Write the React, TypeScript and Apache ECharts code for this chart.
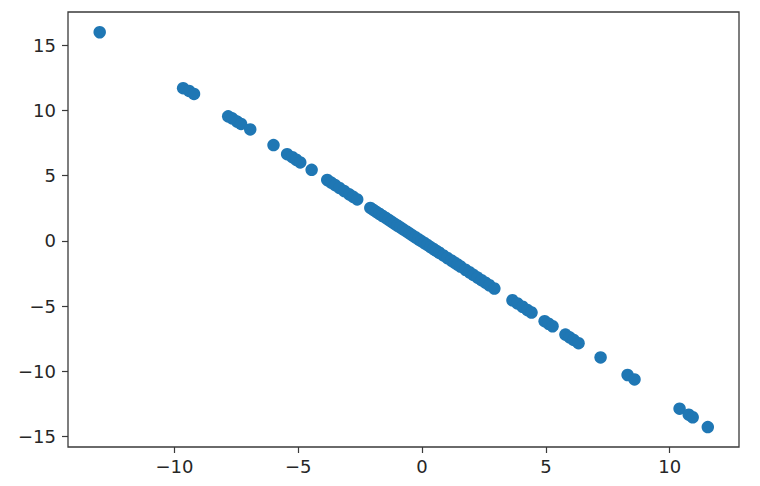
import React, { useEffect, useRef } from "react";
import * as echarts from "echarts";

const xValues: number[] = [
  -13.02, -9.65, -9.41, -9.21, -7.83, -7.67, -7.47, -7.31, -6.94, -6.0,
  -5.45, -5.24, -5.08, -4.92, -4.46, -3.83, -3.67, -3.51, -3.34, -3.14,
  -2.94, -2.78, -2.62, -2.09, -1.97, -1.85, -1.73, -1.61, -1.48, -1.36,
  -1.24, -1.12, -1.0, -0.88, -0.76, -0.63, -0.51, -0.39, -0.27, -0.15,
  -0.03, 0.09, 0.21, 0.34, 0.46, 0.58, 0.7, 0.86, 1.02, 1.18,
  1.31, 1.43, 1.55, 1.75, 1.91, 2.07, 2.24, 2.4, 2.56, 2.72,
  2.92, 3.65, 3.85, 4.06, 4.26, 4.42, 4.95, 5.11, 5.27, 5.79,
  5.96, 6.12, 6.32, 7.21, 8.3, 8.58, 10.4, 10.77, 10.93, 11.54,
];

const yValues: number[] = [
  16.0, 11.71, 11.5, 11.27, 9.55, 9.4, 9.15, 8.97, 8.55, 7.35,
  6.65, 6.42, 6.22, 6.02, 5.45, 4.67, 4.47, 4.28, 4.06, 3.82,
  3.57, 3.38, 3.18, 2.53, 2.38, 2.23, 2.08, 1.93, 1.78, 1.63,
  1.48, 1.33, 1.18, 1.04, 0.89, 0.73, 0.58, 0.43, 0.28, 0.13,
  -0.01, -0.16, -0.31, -0.47, -0.62, -0.77, -0.91, -1.11, -1.31, -1.5,
  -1.66, -1.81, -1.96, -2.21, -2.4, -2.6, -2.81, -3.01, -3.2, -3.4,
  -3.65, -4.55, -4.79, -5.05, -5.3, -5.49, -6.15, -6.35, -6.54, -7.18,
  -7.39, -7.59, -7.84, -8.93, -10.28, -10.62, -12.86, -13.32, -13.52, -14.27,
];

const xTicks: number[] = [-10, -5, 0, 5, 10];
const yTicks: number[] = [-15, -10, -5, 0, 5, 10, 15];

const fmt = (v: number) => (v < 0 ? "\u2212" + String(Math.abs(v)) : String(v));

export default function App() {
  const ref = useRef<HTMLDivElement>(null);
  useEffect(() => {
    if (!ref.current) return;
    const chart = echarts.init(ref.current, undefined, { renderer: "svg" });
    const data = xValues.map((x, i) => [x, yValues[i]]);
    const labelStyle = {
      color: "#262626",
      fontFamily: "DejaVu Sans",
      fontSize: 18,
      formatter: (v: number) => fmt(v),
    };
    const tickStyle = { color: "#3a3a3a", width: 1.2 };
    chart.setOption({
      animation: false,
      backgroundColor: "#ffffff",
      grid: {
        left: 68,
        right: 21,
        top: 12,
        bottom: 39,
        containLabel: false,
        show: true,
        borderColor: "#3a3a3a",
        borderWidth: 1.3,
      },
      xAxis: {
        type: "value",
        min: -14.3,
        max: 12.8,
        splitLine: { show: false },
        axisLine: { show: false, onZero: false },
        axisTick: {
          show: true,
          inside: false,
          length: 6,
          customValues: xTicks,
          lineStyle: tickStyle,
        },
        axisLabel: { ...labelStyle, margin: 10, customValues: xTicks },
      },
      yAxis: {
        type: "value",
        min: -15.8,
        max: 17.55,
        splitLine: { show: false },
        axisLine: { show: false, onZero: false },
        axisTick: {
          show: true,
          inside: false,
          length: 6,
          customValues: yTicks,
          lineStyle: tickStyle,
        },
        axisLabel: { ...labelStyle, margin: 12, customValues: yTicks },
      },
      series: [
        {
          type: "scatter",
          data,
          symbol: "circle",
          symbolSize: 12.5,
          itemStyle: { color: "#1f77b4", opacity: 1 },
        },
      ],
    });
    return () => chart.dispose();
  }, []);
  return (
    <div
      ref={ref}
      style={{ position: "fixed", left: 0, top: 0, width: 760, height: 486 }}
    />
  );
}
